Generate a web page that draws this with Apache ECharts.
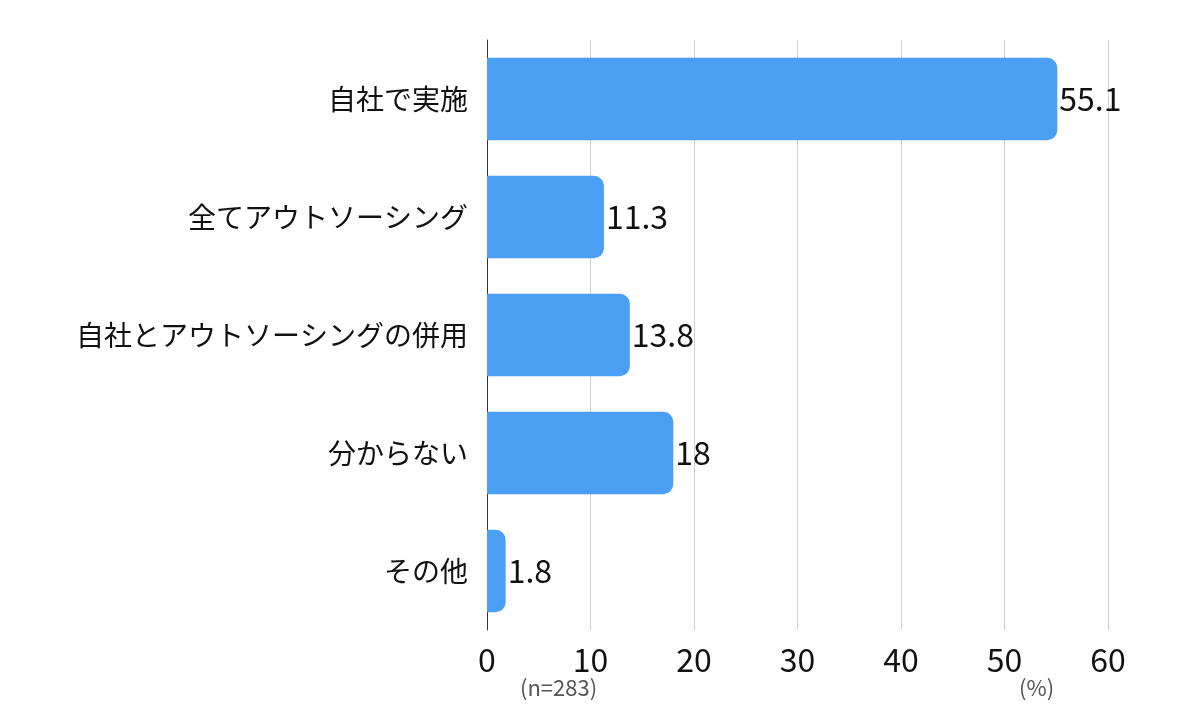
<!DOCTYPE html>
<html>
<head>
<meta charset="utf-8">
<script src="https://cdn.jsdelivr.net/npm/echarts@6/dist/echarts.min.js"></script>
<style>
  html, body { margin: 0; padding: 0; background: #fff; }
  #main { width: 1200px; height: 719px; }
</style>
</head>
<body>
<div id="main"></div>
<script>
var categories = ['自社で実施', '全てアウトソーシング', '自社とアウトソーシングの併用', '分からない', 'その他'];
var values = [55.1, 11.3, 13.8, 18, 1.8];
var xTicks = [0, 10, 20, 30, 40, 50, 60];
var noteLeft = '(n=283)';
var noteRight = '(%)';

var FONT = '"Noto Sans CJK JP", "Noto Sans", sans-serif';

var chart = echarts.init(document.getElementById('main'));
chart.setOption({
  animation: false,
  textStyle: { fontFamily: FONT },
  grid: { left: 487, right: 92, top: 40, bottom: 89 },
  xAxis: {
    type: 'value',
    min: xTicks[0],
    max: xTicks[xTicks.length - 1],
    interval: 10,
    axisLine: { show: false },
    axisTick: { show: false },
    axisLabel: { color: '#111', fontSize: 32, margin: 14 },
    splitLine: { lineStyle: { color: '#cfcfcf', width: 1 } }
  },
  yAxis: {
    type: 'category',
    data: categories,
    inverse: true,
    axisLine: { show: true, lineStyle: { color: '#333', width: 1 } },
    axisTick: { show: false },
    axisLabel: { color: '#111', fontSize: 28, margin: 19 }
  },
  series: [{
    type: 'bar',
    data: values,
    barWidth: '70%',
    itemStyle: { color: '#4a9ff5', borderRadius: [0, 10, 10, 0] },
    label: {
      show: true,
      position: 'right',
      distance: 2,
      color: '#111',
      fontSize: 32
    }
  }],
  graphic: [
    { type: 'text', left: 520, top: 677, style: { text: noteLeft, fill: '#555', fontSize: 22, fontFamily: FONT } },
    { type: 'text', left: 1019, top: 677, style: { text: noteRight, fill: '#555', fontSize: 22, fontFamily: FONT } }
  ]
});
</script>
</body>
</html>
